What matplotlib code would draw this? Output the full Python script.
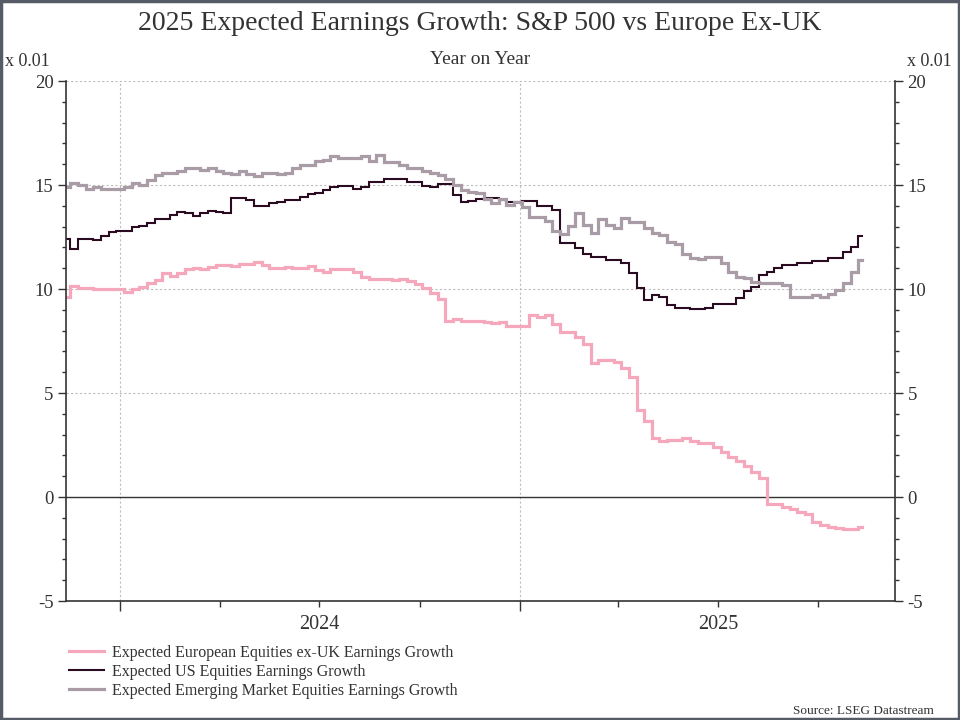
import matplotlib
matplotlib.use('Agg')
import matplotlib.pyplot as plt
import matplotlib.dates as mdates
import matplotlib.transforms as mtransforms
import pandas as pd
from matplotlib.patches import Rectangle

plt.rcParams['font.family'] = ['Liberation Serif', 'DejaVu Serif']
plt.rcParams['axes.unicode_minus'] = False

# ---------------- data ----------------
dates = pd.date_range('2023-11-13', periods=105, freq='7D')

europe = [9.63, 10.14, 10.03, 10.03, 9.99, 9.99, 9.99, 9.99, 9.87, 9.99,
          10.08, 10.27, 10.43, 10.75, 10.63, 10.75, 10.96, 11.02, 10.96, 11.04,
          11.15, 11.15, 11.10, 11.20, 11.20, 11.28, 11.15, 11.02, 11.02, 11.07,
          11.02, 11.02, 11.12, 10.91, 10.83, 10.96, 10.96, 10.96, 10.83, 10.59,
          10.48, 10.48, 10.48, 10.43, 10.47, 10.39, 10.24, 10.03, 9.79, 9.50,
          8.46, 8.54, 8.48, 8.48, 8.48, 8.43, 8.38, 8.43, 8.24, 8.24,
          8.24, 8.75, 8.64, 8.75, 8.32, 7.95, 7.95, 7.68, 7.36, 6.46,
          6.59, 6.59, 6.51, 6.19, 5.75, 4.18, 3.65, 2.82, 2.69, 2.74,
          2.74, 2.82, 2.69, 2.61, 2.61, 2.42, 2.18, 1.94, 1.75, 1.49,
          1.22, 0.90, -0.34, -0.34, -0.46, -0.59, -0.74, -0.82, -1.22, -1.35,
          -1.43, -1.47, -1.55, -1.55, -1.44]

us = [12.40, 11.91, 12.40, 12.40, 12.36, 12.56, 12.76, 12.80, 12.80, 12.96,
      13.03, 13.19, 13.35, 13.35, 13.56, 13.72, 13.64, 13.53, 13.64, 13.75,
      13.68, 13.64, 14.36, 14.36, 14.28, 14.00, 14.00, 14.12, 14.18, 14.28,
      14.28, 14.41, 14.55, 14.63, 14.76, 14.92, 14.97, 14.97, 14.81, 14.92,
      15.13, 15.13, 15.27, 15.27, 15.27, 15.13, 15.13, 14.97, 14.89, 15.05,
      15.05, 14.52, 14.17, 14.23, 14.31, 14.36, 14.36, 14.28, 14.17, 14.20,
      14.23, 14.23, 14.00, 14.00, 13.80, 12.20, 12.20, 11.96, 11.68, 11.56,
      11.56, 11.40, 11.40, 11.24, 10.76, 10.04, 9.47, 9.71, 9.60, 9.23,
      9.07, 9.07, 9.02, 9.02, 9.10, 9.28, 9.28, 9.28, 9.55, 9.92,
      10.11, 10.68, 10.84, 11.00, 11.16, 11.16, 11.24, 11.24, 11.37, 11.37,
      11.48, 11.48, 11.76, 12.00, 12.55]

em = [14.89, 15.11, 15.00, 14.79, 14.89, 14.79, 14.79, 14.79, 14.89, 15.11,
      15.00, 15.24, 15.48, 15.56, 15.56, 15.69, 15.80, 15.80, 15.72, 15.80,
      15.69, 15.60, 15.51, 15.67, 15.51, 15.43, 15.60, 15.60, 15.51, 15.56,
      15.80, 15.96, 15.96, 16.17, 16.20, 16.39, 16.28, 16.28, 16.28, 16.39,
      16.17, 16.44, 16.12, 16.12, 15.96, 15.80, 15.80, 15.69, 15.56, 15.48,
      15.27, 15.00, 14.76, 14.68, 14.60, 14.31, 14.15, 14.31, 14.04, 14.20,
      13.96, 13.45, 13.45, 13.29, 12.80, 12.64, 13.03, 13.64, 13.07, 12.68,
      13.35, 13.07, 12.92, 13.40, 13.24, 13.24, 12.92, 12.71, 12.60, 12.28,
      12.15, 11.68, 11.51, 11.43, 11.52, 11.52, 11.27, 10.84, 10.60, 10.51,
      10.36, 10.27, 10.27, 10.27, 10.19, 9.63, 9.63, 9.63, 9.71, 9.60,
      9.74, 9.95, 10.27, 10.84, 11.40]

series_labels = ['Expected European Equities ex-UK Earnings Growth',
                 'Expected US Equities Earnings Growth',
                 'Expected Emerging Market Equities Earnings Growth']
series_colors = ['#F5A8BB', '#2B0B22', '#A99CA6']

year_labels = ['2024', '2025']
year_label_dates = ['2024-07-01', '2025-07-01']
year_starts = ['2024-01-01', '2025-01-01']
y_ticks = [-5, 0, 5, 10, 15, 20]

title = '2025 Expected Earnings Growth: S&P 500 vs Europe Ex-UK'
subtitle = 'Year on Year'
unit_label = 'x 0.01'
source = 'Source: LSEG Datastream'

# ---------------- figure ----------------
W, H = 960, 720
fig = plt.figure(figsize=(W / 100, H / 100), dpi=100)
fig.patch.set_facecolor('white')
ax = fig.add_axes([66 / W, 1 - 601 / H, (895 - 66) / W, (601 - 81) / H])

txt = '#333333'

for vals, col, lab, lw in zip([europe, us, em], series_colors, series_labels, [2.3, 1.5, 2.3]):
    ax.plot(dates, vals, drawstyle='steps-mid', color=col, lw=lw, label=lab,
            solid_joinstyle='miter')

ax.set_xlim(pd.Timestamp('2023-11-12 12:00'), pd.Timestamp('2025-12-10'))
ax.set_ylim(-5, 20)

# grid
for yv in [5, 10, 15, 20]:
    ax.axhline(yv, color='#BDBDBD', lw=0.8, ls=(0, (2, 2)), zorder=0)
for d in year_starts:
    ax.axvline(pd.Timestamp(d), color='#BDBDBD', lw=0.8, ls=(0, (2, 2)), zorder=0)
ax.axhline(0, color='#333333', lw=1.0, zorder=1)

# spines
ax.spines['top'].set_visible(False)
for s in ['left', 'right', 'bottom']:
    ax.spines[s].set_color('#333333')
    ax.spines[s].set_linewidth(1.2)

# y ticks
ax.set_yticks(y_ticks)
ax.set_yticks(range(-5, 21), minor=True)
ax.tick_params(axis='y', which='major', length=6, width=1, direction='out',
               labelsize=13.5, labelcolor=txt, color='#333333', pad=3,
               left=True, right=True, labelleft=True, labelright=True)
ax.tick_params(axis='y', which='minor', length=3, width=1, direction='out',
               color='#333333', left=True, right=True)

# x ticks
ax.set_xticks([mdates.date2num(pd.Timestamp(d)) for d in year_starts])
ax.xaxis.set_minor_locator(mdates.MonthLocator(bymonth=[4, 7, 10]))
ax.tick_params(axis='x', which='major', length=7, width=1, direction='out',
               labelbottom=False, color='#333333')
ax.tick_params(axis='x', which='minor', length=4, width=1, direction='out',
               labelbottom=False, color='#333333')

trans = mtransforms.blended_transform_factory(ax.transData, ax.transAxes)
for lab, d in zip(year_labels, year_label_dates):
    ax.text(pd.Timestamp(d), -0.046, lab, transform=trans, ha='center', va='center',
            fontsize=14.5, color=txt)

# texts
fig.text(0.5, 1 - 24 / H, title, ha='center', va='center', fontsize=20, color=txt)
fig.text(0.5, 1 - 59 / H, subtitle, ha='center', va='center', fontsize=14, color=txt)
fig.text(5 / W, 1 - 62 / H, unit_label, ha='left', va='center', fontsize=13, color=txt)
fig.text(907 / W, 1 - 62 / H, unit_label, ha='left', va='center', fontsize=13, color=txt)
fig.text(934 / W, 1 - 711 / H, source, ha='right', va='center', fontsize=9.5, color=txt)

# legend
leg = fig.legend(loc='upper left', bbox_to_anchor=(69 / W, 1 - 645 / H),
                 frameon=False, fontsize=11.5, handlelength=2.2, handletextpad=0.5,
                 labelspacing=0.18, borderpad=0, borderaxespad=0)
for t in leg.get_texts():
    t.set_color(txt)

# frame
fig.patches.append(Rectangle((0.0015, 0.002), 0.997, 0.996, transform=fig.transFigure,
                             fill=False, edgecolor='#565B68', lw=2.5))

fig.savefig('out.png', dpi=100, facecolor='white')
